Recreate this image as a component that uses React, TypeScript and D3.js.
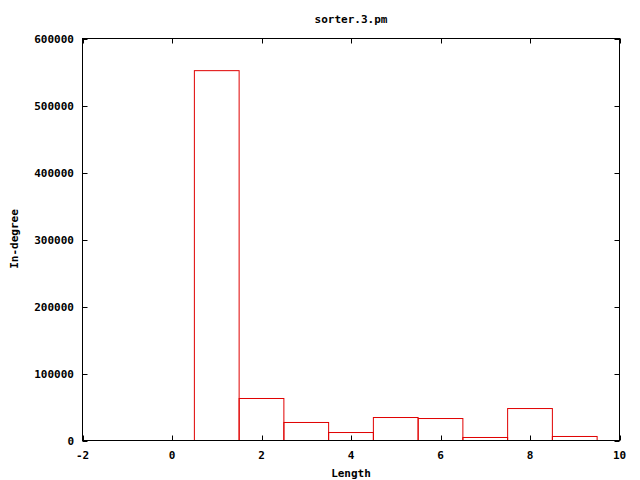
import React from "react";
import * as d3 from "d3";

const lengths = [1, 2, 3, 4, 5, 6, 7, 8, 9];
const inDegree = [552000, 62700, 26900, 11900, 34300, 32800, 4500, 47700, 6000];
const xTicks = [-2, 0, 2, 4, 6, 8, 10];
const yTicks = [0, 100000, 200000, 300000, 400000, 500000, 600000];
const title = "sorter.3.pm";
const xLabel = "Length";
const yLabel = "In-degree";

const W = 640, H = 480;
const L = 82.5, R = 619.5, T = 38.5, B = 440.5;

export default function App() {
  const x = d3.scaleLinear().domain([-2, 10]).range([L, R]);
  const y = d3.scaleLinear().domain([0, 600000]).range([B, T]);
  const font = { fontFamily: "'DejaVu Sans Mono', monospace", fontWeight: "bold" as const, fontSize: 11 };
  const tl = 5;
  return (
    <svg width={W} height={H} style={{ position: "absolute", left: 0, top: 0, background: "#fff" }}>
      <rect x={0} y={0} width={W} height={H} fill="#fff" />
      {lengths.map((l, i) => (
        <rect key={l} x={x(l - 0.5)} y={y(inDegree[i])} width={x(l + 0.5) - x(l - 0.5)} height={B - y(inDegree[i])}
          fill="none" stroke="#e00000" strokeWidth={1} />
      ))}
      <rect x={L} y={T} width={R - L} height={B - T} fill="none" stroke="#000" strokeWidth={1} />
      {xTicks.map((t) => (
        <g key={t}>
          <line x1={Math.round(x(t)) + 0.5} x2={Math.round(x(t)) + 0.5} y1={B} y2={B - tl} stroke="#000" />
          <line x1={Math.round(x(t)) + 0.5} x2={Math.round(x(t)) + 0.5} y1={T} y2={T + tl} stroke="#000" />
          <text x={x(t)} y={459} textAnchor="middle" {...font}>{t}</text>
        </g>
      ))}
      {yTicks.map((t) => (
        <g key={t}>
          <line x1={L} x2={L + tl} y1={Math.round(y(t)) + 0.5} y2={Math.round(y(t)) + 0.5} stroke="#000" />
          <line x1={R} x2={R - tl} y1={Math.round(y(t)) + 0.5} y2={Math.round(y(t)) + 0.5} stroke="#000" />
          <text x={74} y={y(t) + 4} textAnchor="end" {...font}>{t}</text>
        </g>
      ))}
      <text x={351} y={23} textAnchor="middle" {...font}>{title}</text>
      <text x={351} y={477} textAnchor="middle" {...font}>{xLabel}</text>
      <text transform={`translate(18,239) rotate(-90)`} textAnchor="middle" {...font}>{yLabel}</text>
    </svg>
  );
}
